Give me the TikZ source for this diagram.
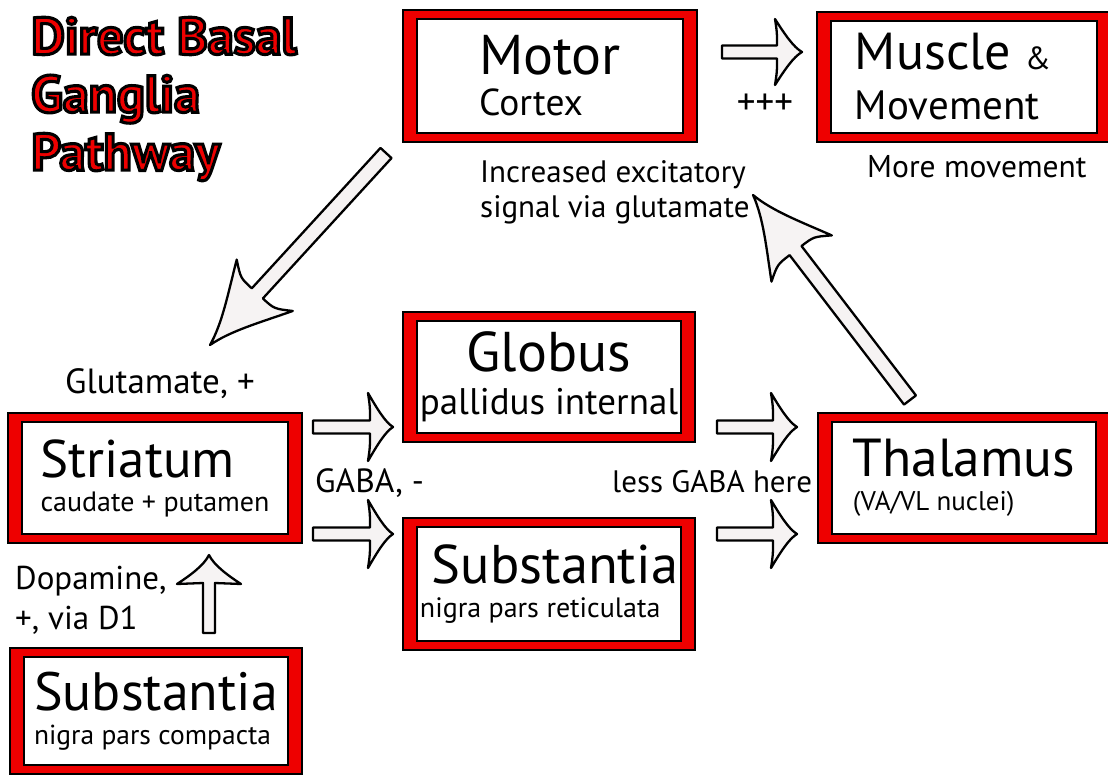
\documentclass[tikz,border=0pt]{standalone}
\usepackage{fontspec}
\setmainfont{PT Sans}
\newfontfamily\titlefont{PT Sans}[BoldFeatures={FakeBold=6}]
\usetikzlibrary{calc}

\definecolor{boxred}{RGB}{238,0,0}
\definecolor{arrowfill}{RGB}{246,243,243}

\newcommand\fsz[2]{\fontsize{#1}{#2}\selectfont}
% red letters with a black stroke round them
\newcommand\outlined[1]{{\color{boxred}\special{pdf:literal direct 0 0 0 RG}#1}}

% hollow block arrow
% [shaft half width]{tail}{tip}{head length}{barb set-back}{barb half span}
\newcommand\fatarrow[6][6.5]{%
  \path let \p1=($(#3)-(#2)$) in \pgfextra{%
    \pgfmathsetmacro\arrlen{veclen(\x1,\y1)}%
    \pgfmathsetmacro\arrang{atan2(\y1,\x1)}%
    \xdef\arrlen{\arrlen}\xdef\arrang{\arrang}};
  \begin{scope}[shift={(#2)}, rotate=\arrang]
    \draw[fatarr] (0,#1) -- ({\arrlen-#4},#1)
      .. controls ({\arrlen-#4},{0.6*#6}) .. ({\arrlen-#4-#5},#6)
      .. controls ({\arrlen-0.7*#4},{0.55*#6}) and ({\arrlen-0.35*#4},{0.15*#6}) .. (\arrlen,0)
      .. controls ({\arrlen-0.35*#4},{-0.15*#6}) and ({\arrlen-0.7*#4},{-0.55*#6}) .. ({\arrlen-#4-#5},-#6)
      .. controls ({\arrlen-#4},{-0.6*#6}) .. ({\arrlen-#4},-#1)
      -- (0,-#1) -- cycle;
  \end{scope}}

\begin{document}
\begin{tikzpicture}[
    x=1pt, y=-1pt,
    box/.style={draw=black, line width=1.5pt, fill=boxred, align=left, inner sep=0pt,
      minimum width=292pt, minimum height=130pt,
      path picture={\draw[line width=1.5pt, fill=white]
        ([shift={(14pt,9pt)}]path picture bounding box.south west) rectangle
        ([shift={(-14pt,-9pt)}]path picture bounding box.north east);}},
    lbl/.style={inner sep=0pt, align=left, font=\fsz{32}{35}},
    fatarr/.style={draw=black, line width=2.3pt, fill=arrowfill, line join=round},
]
\useasboundingbox (0,0) rectangle (1108,774);
\clip (0,0) rectangle (1108,774);

% title
\node[anchor=north west, inner sep=0pt, align=left,
      font=\titlefont\bfseries\fsz{52}{58}] (title) at (31,17)
  {\outlined{Direct Basal}\\\outlined{Ganglia}\\\outlined{Pathway}};

% boxes
\node[box, minimum width=294pt, minimum height=132pt, font=\fsz{56}{41}] (motor) at (550,76)
  {Motor\\\fsz{37.5}{37.5}Cortex};
\node[box, minimum width=294pt, font=\fsz{52}{50}] (muscle) at (964,77)
  {Muscle {\fsz{32}{32}\&}\hspace*{22pt}\\\fsz{41}{41}Movement};
\node[box, align=center, font=\fsz{56}{43}] (globus) at (549,377)
  {Globus\\\fsz{37}{37}pallidus internal};
\node[box, minimum height=132pt, font=\fsz{54.5}{34}] (snr) at (549,584)
  {\hspace*{12pt}Substantia\\\fsz{28}{28}nigra pars reticulata};
\node[box, minimum width=294pt, font=\fsz{53}{34}] (striatum) at (155,478)
  {Striatum\\\fsz{28}{28}caudate + putamen};
\node[box, minimum height=126pt, font=\fsz{54}{34}] (snc) at (156,711)
  {Substantia\\\fsz{27.5}{27.5}nigra pars compacta};
\node[box, font=\fsz{53.5}{34}] (thalamus) at (964,478)
  {Thalamus\\\fsz{27}{27}(VA/VL nuclei)};

% labels
\node[lbl, anchor=center, font=\fsz{37}{37}] (plus) at (765,104) {+++};
\node[lbl, anchor=north west, font=\fsz{31}{35}] (excit) at (480,160) {Increased excitatory\\signal via glutamate};
\node[lbl, anchor=base west, font=\fsz{31.5}{35}] (more) at (867,177) {More movement};
\node[lbl, anchor=base west, font=\fsz{35}{35}] (glut) at (65,393) {Glutamate, +};
\node[lbl, anchor=base west, font=\fsz{33.5}{35}] (gaba) at (315,492) {GABA, -};
\node[lbl, anchor=base west, font=\fsz{31}{35}] (lessgaba) at (612,492) {less GABA here};
\node[lbl, anchor=north west, font=\fsz{33}{40}] (dopa) at (15,566) {Dopamine,\\+, via D1};

% arrow ends
\coordinate (motor-out) at (722,52);
\coordinate (muscle-in) at (802,52);
\coordinate (motor-down) at (386,153);
\coordinate (striatum-in) at (210,345);
\coordinate (thalamus-up) at (910,400);
\coordinate (muscle-up) at (753,195);
\coordinate (str-a) at (313,427);
\coordinate (globus-in) at (393,427);
\coordinate (str-b) at (313,534);
\coordinate (snr-in) at (393,534);
\coordinate (globus-out) at (717,427);
\coordinate (thal-a) at (797,427);
\coordinate (snr-out) at (717,534);
\coordinate (thal-b) at (797,534);
\coordinate (snc-up) at (209,633);
\coordinate (striatum-bot) at (209,555);

% arrows
\fatarrow{motor-out}{muscle-in}{25}{2}{33}
\fatarrow[7.5]{motor-down}{striatum-in}{70}{11}{38}
\fatarrow[7.5]{thalamus-up}{muscle-up}{70}{10}{38}
\fatarrow{str-a}{globus-in}{23}{2}{34}
\fatarrow{str-b}{snr-in}{23}{2}{34}
\fatarrow{globus-out}{thal-a}{24}{2}{34}
\fatarrow{snr-out}{thal-b}{24}{2}{34}
\fatarrow[6]{snc-up}{striatum-bot}{28}{1}{32}
\end{tikzpicture}
\end{document}
